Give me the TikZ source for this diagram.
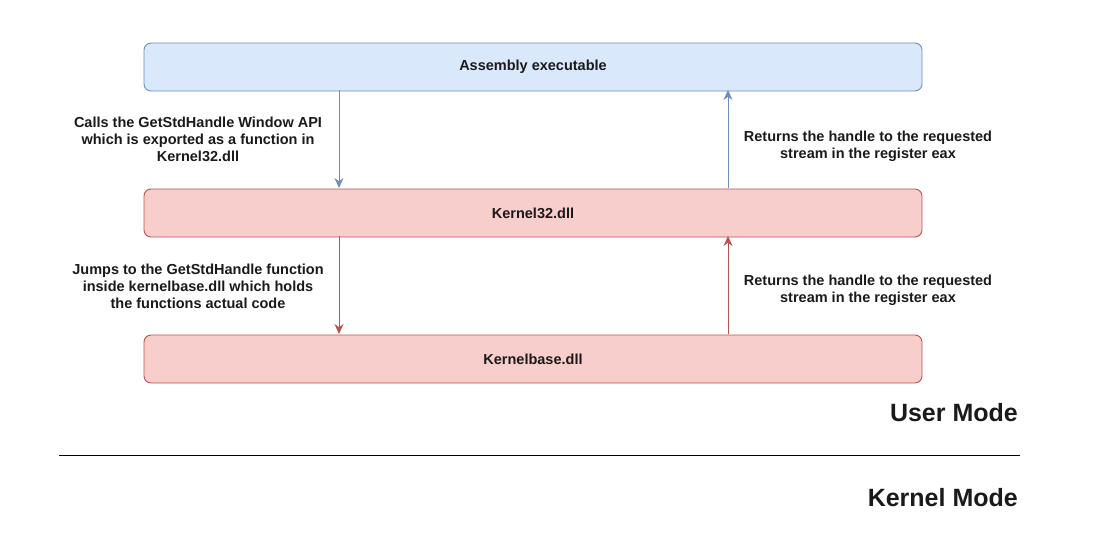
\documentclass[tikz,border=0pt]{standalone}
\usepackage{fontspec}
\setmainfont{Liberation Sans}
\usetikzlibrary{arrows.meta}
\definecolor{bfill}{HTML}{DAE8FC}
\definecolor{bline}{HTML}{6C8EBF}
\definecolor{rfill}{HTML}{F8CECC}
\definecolor{rline}{HTML}{B85450}
\definecolor{txt}{HTML}{1A1A1A}
\tikzset{
  box/.style={draw, rounded corners=7pt, minimum width=778pt, minimum height=48pt, inner sep=0pt, line width=0.9pt, font=\fontsize{14.5}{17}\selectfont\bfseries, text=txt},
  bluebox/.style={box, fill=bfill, draw=bline},
  redbox/.style={box, fill=rfill, draw=rline},
  lbl/.style={align=center, font=\fontsize{14.5}{17}\selectfont\bfseries, text=txt, inner sep=0pt},
  modelbl/.style={anchor=east, font=\fontsize{25}{29}\selectfont\bfseries, text=txt, inner sep=0pt},
  barrow/.style={draw=bline, line width=1pt, -{Stealth[length=10pt,width=9pt]}},
  rarrow/.style={draw=rline, line width=1pt, -{Stealth[length=10pt,width=9pt]}}
}
\begin{document}
\begin{tikzpicture}[x=1pt,y=-1pt]
\useasboundingbox (0,0) rectangle (1108,546);
\node[bluebox] (asm) at (533,67) {Assembly executable};
\node[redbox] (k32) at (533,213) {Kernel32.dll};
\node[redbox] (kb) at (533,359) {Kernelbase.dll};
\coordinate (a1s) at (339,90);
\coordinate (a1e) at (339,188);
\coordinate (a2s) at (339,236);
\coordinate (a2e) at (339,334);
\coordinate (r1s) at (728,188);
\coordinate (r1e) at (728,90);
\coordinate (r2s) at (728,334);
\coordinate (r2e) at (728,236);
\draw[barrow] (a1s) -- (a1e);
\draw[rarrow] (a2s) -- (a2e);
\draw[barrow] (r1s) -- (r1e);
\draw[rarrow] (r2s) -- (r2e);
\node[lbl] (l1) at (198,139) {Calls the GetStdHandle Window API\\which is exported as a function in\\Kernel32.dll};
\node[lbl] (l2) at (198,286) {Jumps to the GetStdHandle function\\inside kernelbase.dll which holds\\the functions actual code};
\node[lbl] (l3) at (868,146) {Returns the handle to the requested\\stream in the register eax};
\node[lbl] (l4) at (868,290) {Returns the handle to the requested\\stream in the register eax};
\node[modelbl] (um) at (1018,413) {User Mode};
\node[modelbl] (km) at (1018,498) {Kernel Mode};
\coordinate (sepl) at (59,455);
\coordinate (sepr) at (1020,455);
\draw[line width=1pt, black] (sepl) -- (sepr);
\end{tikzpicture}
\end{document}
